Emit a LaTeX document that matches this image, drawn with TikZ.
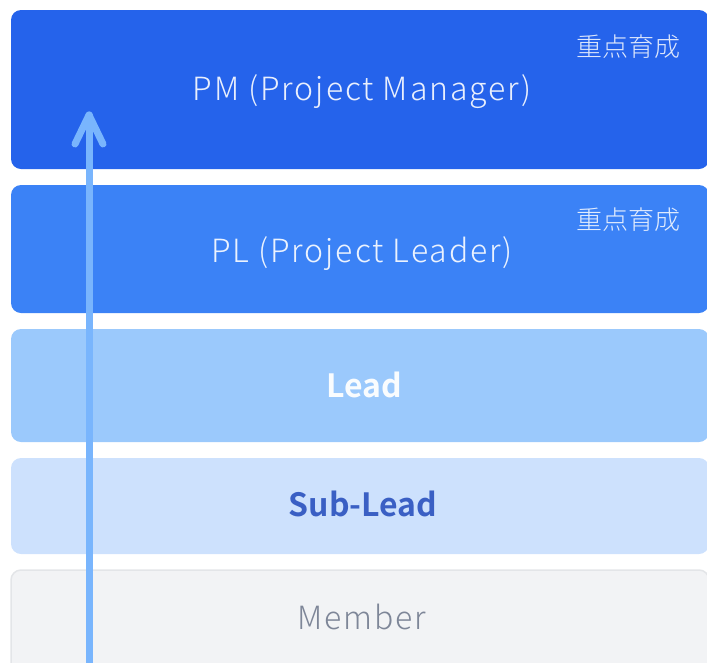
\documentclass[tikz,border=0pt]{standalone}
\usepackage{fontspec}
\setmainfont{Noto Sans CJK JP}
\newfontfamily\lightfont[LetterSpace=6]{Noto Sans CJK JP Light}
\newfontfamily\tagfont{Noto Sans CJK JP Light}
\newfontfamily\boldfont{Noto Sans CJK JP Bold}
\usetikzlibrary{calc}

\definecolor{pmblue}{HTML}{2563EB}
\definecolor{plblue}{HTML}{3B82F6}
\definecolor{leadblue}{HTML}{9BC9FC}
\definecolor{subblue}{HTML}{CDE1FD}
\definecolor{membergray}{HTML}{F2F3F5}
\definecolor{memberedge}{HTML}{E3E5E8}
\definecolor{subtext}{HTML}{3A5FC4}
\definecolor{membertext}{HTML}{7E8698}
\definecolor{arrowblue}{HTML}{79B5FD}

\tikzset{
  tier/.style={rounded corners=10pt, draw=none},
  lighttext/.style={font=\lightfont\fontsize{32}{32}\selectfont, anchor=base},
  boldtext/.style={font=\boldfont\fontsize{32}{32}\selectfont, anchor=base},
  tagtext/.style={font=\tagfont\fontsize{26}{26}\selectfont, anchor=base east, text=white, text opacity=0.85},
  growth/.style={line width=7pt, draw=arrowblue, line cap=round, line join=round},
}

\begin{document}
\begin{tikzpicture}[x=1pt, y=-1pt]
  \useasboundingbox (0,0) rectangle (707,662);
  \clip (0,0) rectangle (707,662);

  % tier bands, top to bottom
  \fill[tier, pmblue]   (11,10)  rectangle (709,169);
  \fill[tier, plblue]   (11,185) rectangle (709,313);
  \fill[tier, leadblue] (11,329) rectangle (709,442);
  \fill[tier, subblue]  (11,458) rectangle (709,554);
  \filldraw[tier, fill=membergray, draw=memberedge, line width=1.5pt] (11,570) rectangle (709,680);

  % tier titles
  \node[lighttext, text=white, text opacity=0.9] (pm) at (362,100) {PM (Project Manager)};
  \node[lighttext, text=white, text opacity=0.9] (pl) at (362,262) {PL (Project Leader)};
  \node[boldtext, text=white, text opacity=0.95] (lead) at (364,397) {Lead};
  \node[boldtext, text=subtext] (sublead) at (363,516) {Sub-Lead};
  \node[lighttext, text=membertext] (member) at (362,629) {Member};

  % focus tags
  \node[tagtext] (tagpm) at (684,56) {重点育成};
  \node[tagtext] (tagpl) at (684,229) {重点育成};

  % growth arrow running up through the tiers
  \coordinate (foot) at (89,670);
  \coordinate (tip) at (89,115);
  \draw[growth] (foot) -- (tip);
  \draw[growth] ($(tip)+(-14,29)$) -- (tip) -- ($(tip)+(14,29)$);
\end{tikzpicture}
\end{document}
